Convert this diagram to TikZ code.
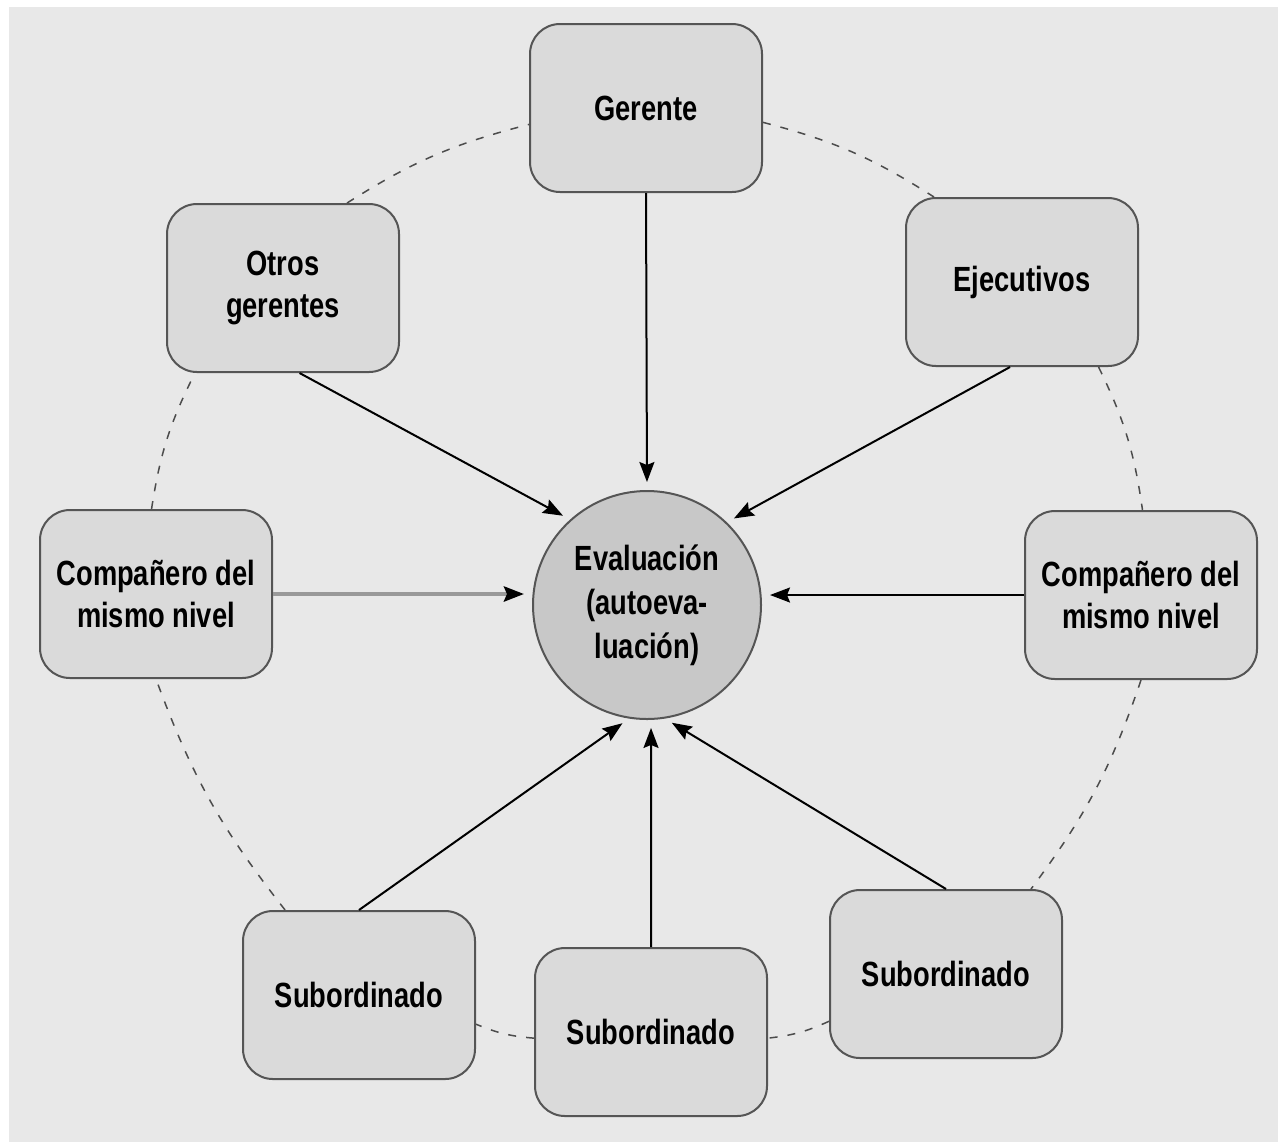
\documentclass[tikz,border=0pt]{standalone}
\usepackage{fontspec}
\setmainfont[FakeStretch=0.78]{Liberation Sans}
\usetikzlibrary{arrows.meta}
\definecolor{bggray}{HTML}{E8E8E8}
\definecolor{boxfill}{HTML}{DADADA}
\definecolor{circfill}{HTML}{C8C8C8}
\definecolor{edge}{HTML}{555555}
\begin{document}
\begin{tikzpicture}[x=0.5pt,y=-0.5pt,
  every node/.style={font=\fontsize{17.5}{21}\selectfont\bfseries, align=center},
  rolebox/.style={draw=edge, line width=1pt, fill=boxfill, rounded corners=15pt,
    minimum width=116pt, minimum height=84pt, inner sep=2pt},
  center/.style={circle, draw=edge, line width=1pt, fill=circfill,
    minimum size=114pt, inner sep=0pt},
  feed/.style={line width=1pt, black, -{Stealth[length=10pt,width=7.5pt,inset=1.5pt]}, shorten >=4pt},
  ring/.style={draw=edge!90!black, line width=0.75pt, dash pattern=on 4pt off 5pt, bend left=9}
]
% canvas
\useasboundingbox (0,0) rectangle (1278,1142);
\fill[white] (0,0) rectangle (1278,1142);
\fill[bggray] (9,7) rectangle (1278,1142);

% outer ring of sources
\node[rolebox] (ger) at (646,108) {Gerente};
\node[rolebox] (og)  at (283,288) {Otros\\gerentes};
\node[rolebox] (ej)  at (1022,282) {Ejecutivos};
\node[rolebox] (cl)  at (156,594) {Compañero del\\mismo nivel};
\node[rolebox] (cr)  at (1141,595) {Compañero del\\mismo nivel};
\node[rolebox] (sl)  at (359,995) {Subordinado};
\node[rolebox] (sm)  at (651,1032) {Subordinado};
\node[rolebox] (sr)  at (946,974) {Subordinado};

% the person being evaluated
\node[center, font=\fontsize{17.5}{22}\selectfont\bfseries] (ev) at (647,605)
  {Evaluación\\(autoeva-\\luación)};

% dashed ring linking the sources
\draw[ring] (og.53)   to (ger.188);
\draw[ring] (ger.-7)  to (ej.136);
\draw[ring] (ej.-48)  to (cr.89);
\draw[ring] (cr.south) to (sr.45);
\draw[ring] (sr.202)  to (sm.-3);
\draw[ring] (sm.183)  to (sl.-14);
\draw[ring] (sl.131)  to (cl.south);
\draw[ring] (cl.93)   to (og.224);

% feedback arrows into the centre
\draw[feed] (ger.south) -- (ev.90);
\draw[feed] (og.-79)    -- (ev.132);
\draw[feed] (ej.-98)    -- (ev.46);
\draw[feed, draw=gray!80, line width=2pt,
  -{Stealth[black,length=10pt,width=7.5pt,inset=1.5pt]}] (cl.east) -- (cl.east -| ev.west);
\draw[feed] (cr.west)   -- (cr.west -| ev.east);
\draw[feed] (sl.north)  -- (ev.-99);
\draw[feed] (sm.north)  -- (ev.-88);
\draw[feed] (sr.north)  -- (ev.-81);
\end{tikzpicture}
\end{document}
